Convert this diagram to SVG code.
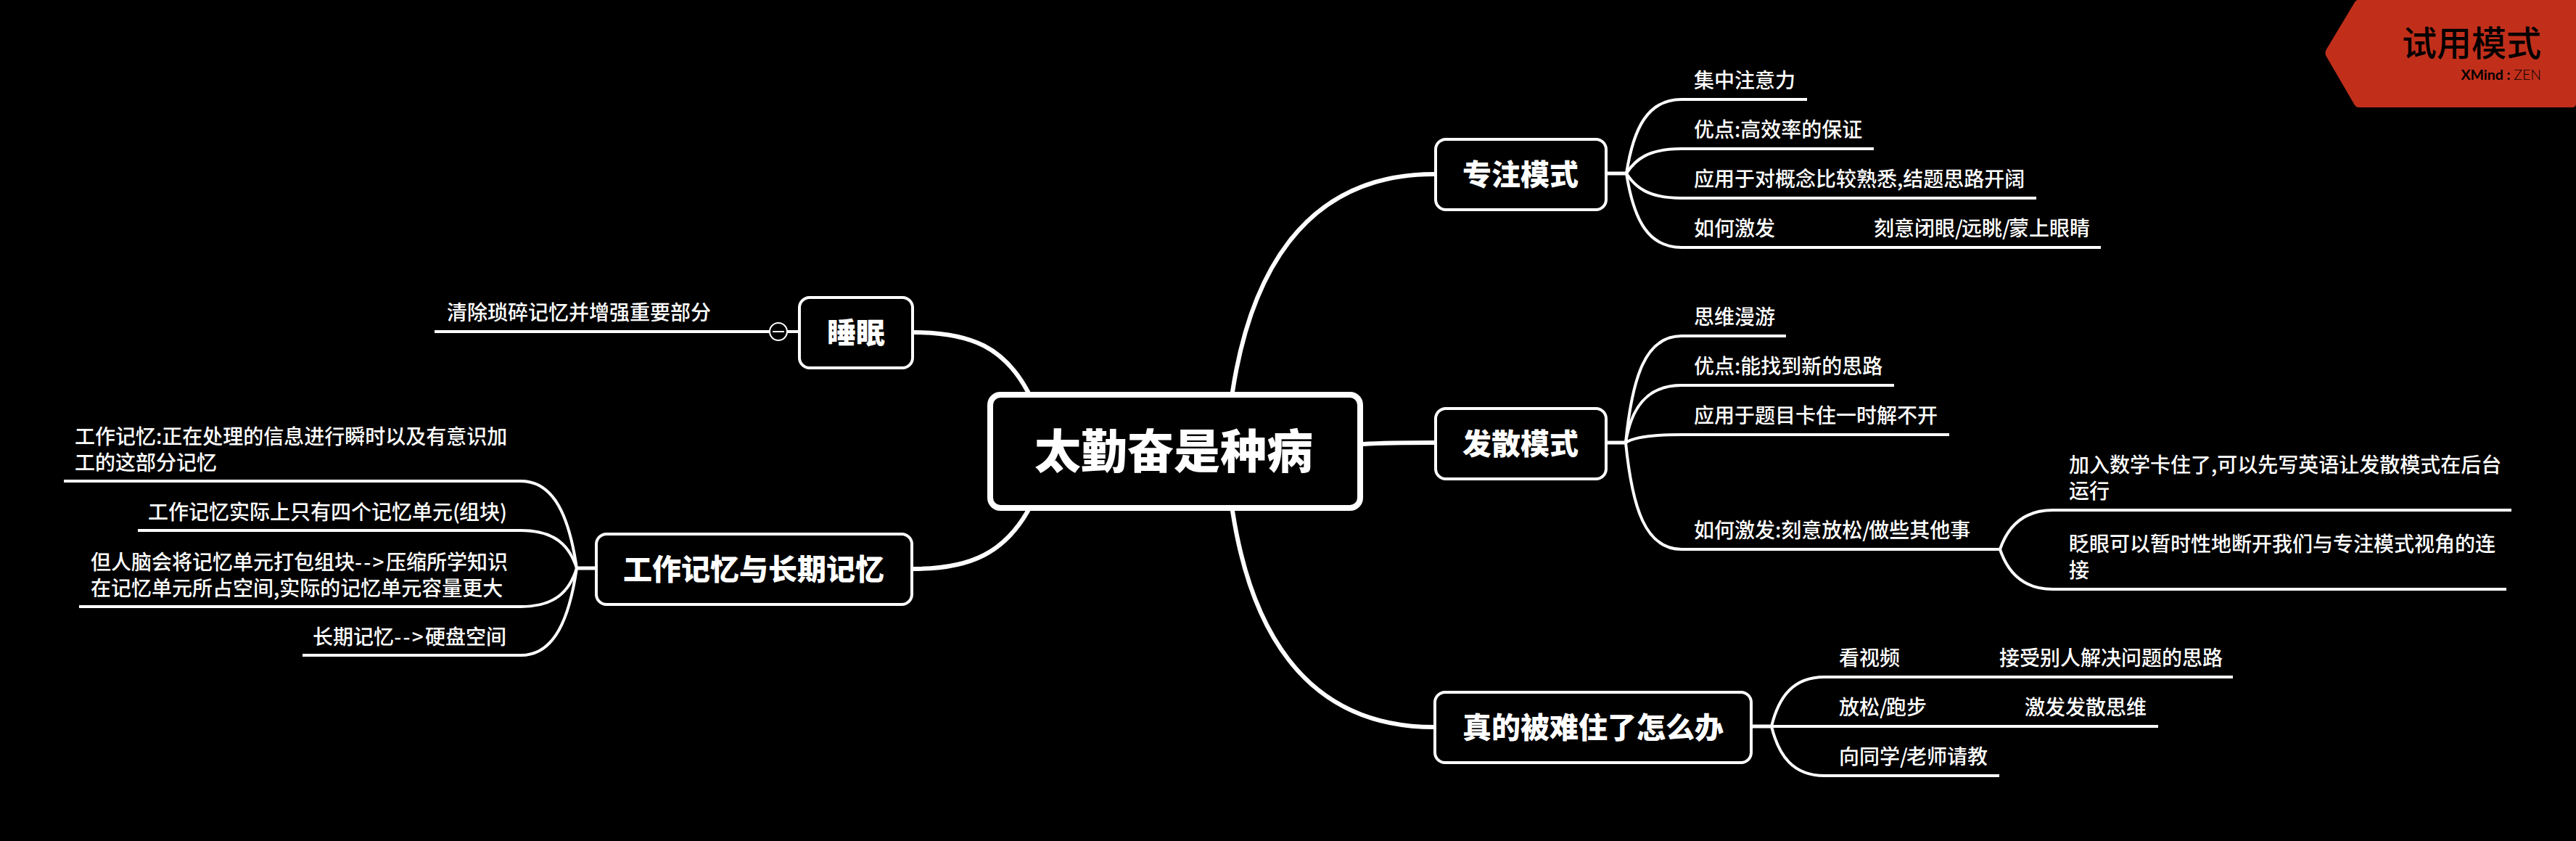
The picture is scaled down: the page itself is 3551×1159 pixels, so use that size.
<svg xmlns="http://www.w3.org/2000/svg" width="3551" height="1159" viewBox="0 0 3551 1159">
<style>
text{font-family:"Noto Sans CJK SC","Noto Sans",sans-serif;fill:#fff}
.t{font-size:28px;font-weight:500}
.b{font-size:40px;font-weight:900;text-anchor:middle}
.r{text-anchor:end}
.s{letter-spacing:-2px}
.a{letter-spacing:2.3px}
.p{letter-spacing:-1px}
.box{fill:#000;stroke:#fff;stroke-width:4}
.c1{fill:none;stroke:#fff;stroke-width:6;stroke-linecap:round}
.c2{fill:none;stroke:#fff;stroke-width:4}
.c3{fill:none;stroke:#fff;stroke-width:5}
</style>
<rect width="3551" height="1159" fill="#000"/>
<g id="connectors">
<path class="c1" d="M1699,540C1722,390 1790,240 1977,240"/>
<path class="c1" d="M1879,612C1910,610 1940,610 1977,610"/>
<path class="c1" d="M1699,704C1722,854 1790,1002 1977,1002"/>
<path class="c1" d="M1417,540C1385,480 1340,458 1260,458"/>
<path class="c1" d="M1417,704C1385,760 1340,784 1260,784"/>
<path class="c3" d="M2216,239H2242M2216,610H2241M2416,1001H2442M795,783H820"/>
<path class="c2" d="M2242,239C2252,175 2272,137 2318,137H2491"/>
<path class="c2" d="M2242,239C2254,220 2272,205 2318,205H2583"/>
<path class="c2" d="M2242,239C2254,258 2272,273 2318,273H2807"/>
<path class="c2" d="M2242,239C2252,303 2272,341 2318,341H2896"/>
<path class="c2" d="M2241,610C2250,520 2268,463 2318,463H2462"/>
<path class="c2" d="M2241,610C2248,565 2268,531 2318,531H2611"/>
<path class="c2" d="M2241,610C2252,603 2275,599 2318,599H2687"/>
<path class="c2" d="M2241,610C2250,700 2268,757 2318,757H2757"/>
<path class="c2" d="M2757,757C2768,725 2790,703 2830,703H3462"/>
<path class="c2" d="M2757,757C2768,790 2790,812 2830,812H3455"/>
<path class="c2" d="M2442,1001C2452,960 2472,933 2515,933H3078"/>
<path class="c2" d="M2442,1001H2975"/>
<path class="c2" d="M2442,1001C2452,1042 2472,1069 2515,1069H2756"/>
<path class="c2" d="M795,783C785,715 765,663 718,663H88"/>
<path class="c2" d="M795,783C785,752 765,731 718,731H190"/>
<path class="c2" d="M795,783C785,815 765,836 718,836H109"/>
<path class="c2" d="M795,783C785,851 765,903 718,903H417"/>
<path class="c2" d="M1100,457H599"/>
</g>
<g id="root"><rect x="1365" y="544" width="510" height="156" rx="14" fill="#000" stroke="#fff" stroke-width="8"/><text x="1618" y="645" font-size="64" font-weight="900" text-anchor="middle">太勤奋是种病</text></g>
<g id="focus"><rect class="box" x="1979" y="192" width="235" height="97" rx="14"/><text class="b" x="2096" y="255">专注模式</text></g>
<g id="focus-1"><text class="t" x="2335" y="121">集中注意力</text></g>
<g id="focus-2"><text class="t" x="2335" y="189">优点:高效率的保证</text></g>
<g id="focus-3"><text class="t" x="2335" y="257">应用于对概念比较熟悉,结题思路开阔</text></g>
<g id="focus-4"><text class="t" x="2335" y="325">如何激发</text></g>
<g id="focus-4-1"><text class="t" x="2583" y="325">刻意闭眼<tspan class="s">/</tspan>远眺<tspan class="s">/</tspan>蒙上眼睛</text></g>
<g id="diffuse"><rect class="box" x="1979" y="563" width="235" height="97" rx="14"/><text class="b" x="2096" y="626">发散模式</text></g>
<g id="diffuse-1"><text class="t" x="2335" y="447">思维漫游</text></g>
<g id="diffuse-2"><text class="t" x="2335" y="515">优点:能找到新的思路</text></g>
<g id="diffuse-3"><text class="t" x="2335" y="583">应用于题目卡住一时解不开</text></g>
<g id="diffuse-4"><text class="t" x="2335" y="741">如何激发:刻意放松<tspan class="s">/</tspan>做些其他事</text></g>
<g id="diffuse-4-1"><text class="t" x="2852" y="651">加入数学卡住了,可以先写英语让发散模式在后台</text><text class="t" x="2852" y="687">运行</text></g>
<g id="diffuse-4-2"><text class="t" x="2852" y="760">眨眼可以暂时性地断开我们与专注模式视角的连</text><text class="t" x="2852" y="796">接</text></g>
<g id="stuck"><rect class="box" x="1978" y="954" width="436" height="97" rx="14"/><text class="b" x="2196" y="1017">真的被难住了怎么办</text></g>
<g id="stuck-1"><text class="t" x="2535" y="917">看视频</text></g>
<g id="stuck-1-1"><text class="t" x="2756" y="917">接受别人解决问题的思路</text></g>
<g id="stuck-2"><text class="t" x="2535" y="985">放松<tspan class="s">/</tspan>跑步</text></g>
<g id="stuck-2-1"><text class="t" x="2791" y="985">激发发散思维</text></g>
<g id="stuck-3"><text class="t" x="2535" y="1053">向同学<tspan class="s">/</tspan>老师请教</text></g>
<g id="sleep"><rect class="box" x="1102" y="410" width="156" height="97" rx="14"/><text class="b" x="1180" y="473">睡眠</text></g>
<g id="sleep-collapse"><circle cx="1073" cy="457" r="12" fill="#000" stroke="#fff" stroke-width="2"/><path d="M1065,457H1081" stroke="#fff" stroke-width="2"/></g>
<g id="sleep-1"><text class="t" x="616" y="441">清除琐碎记忆并增强重要部分</text></g>
<g id="memory"><rect class="box" x="822" y="736" width="435" height="97" rx="14"/><text class="b" x="1039" y="799">工作记忆与长期记忆</text></g>
<g id="memory-1"><text class="t" x="103" y="612">工作记忆:正在处理的信息进行瞬时以及有意识加</text><text class="t" x="103" y="648">工的这部分记忆</text></g>
<g id="memory-2"><text class="t r" x="698" y="716">工作记忆实际上只有四个记忆单元<tspan class="p">(</tspan>组块<tspan class="p">)</tspan></text></g>
<g id="memory-3"><text class="t" x="125" y="785">但人脑会将记忆单元打包组块<tspan class="a">--&gt;</tspan>压缩所学知识</text><text class="t" x="125" y="821">在记忆单元所占空间,实际的记忆单元容量更大</text></g>
<g id="memory-4"><text class="t r" x="698" y="888">长期记忆<tspan class="a">--&gt;</tspan>硬盘空间</text></g>
<g id="trial-badge"><path d="M3250,0H3551V143Q3551,148 3546,148H3252Q3248,148 3246,145L3207,78Q3204,73 3207,68L3246,3Q3248,0 3250,0Z" fill="#C12F1B"/><text x="3503" y="77" font-size="48" font-weight="500" text-anchor="end" style="fill:#000">试用模式</text><text x="3503" y="110" font-size="19.5" text-anchor="end" style="fill:#000;font-family:Lato,sans-serif"><tspan font-weight="700">XMind</tspan><tspan font-weight="700"> : </tspan><tspan font-weight="300">ZEN</tspan></text></g>
</svg>
